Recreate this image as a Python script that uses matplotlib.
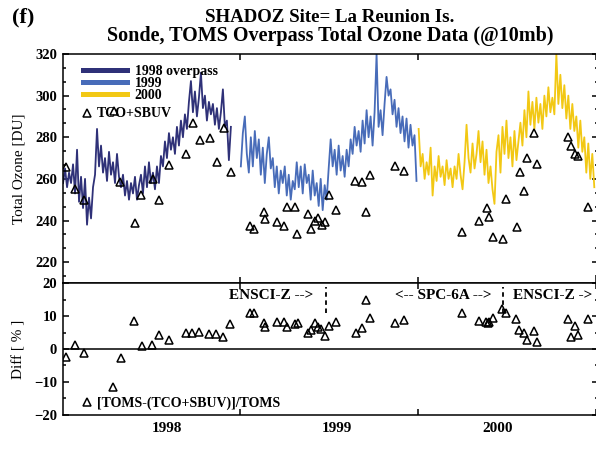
import numpy as np
import matplotlib
matplotlib.use("Agg")
import matplotlib.pyplot as plt
from matplotlib.lines import Line2D
from matplotlib.ticker import FixedLocator, MultipleLocator, AutoMinorLocator

plt.rcParams["font.family"] = ["Liberation Serif", "DejaVu Serif"]
plt.rcParams["font.weight"] = "bold"

# TOMS overpass total ozone [DU], daily record
toms_1998 = [258, 265, 256, 263, 258, 267, 253, 274, 249, 261, 246, 260, 238, 251, 241, 256,
             262, 284, 266, 276, 263, 270, 259, 273, 262, 268, 258, 272, 261, 256, 262, 252,
             259, 250, 258, 253, 261, 250, 257, 262, 253, 266, 256, 268, 258, 263, 255, 266,
             258, 271, 266, 278, 270, 282, 274, 280, 272, 285, 276, 288, 280, 291, 284, 297,
             307, 292, 302, 290, 299, 311, 294, 300, 288, 297, 291, 296, 286, 294, 284, 292,
             303, 285, 288, 269, 285]
toms_1999 = [266, 282, 290, 272, 263, 280, 266, 283, 270, 279, 262, 275, 258, 272, 280, 265,
             270, 256, 266, 253, 264, 258, 266, 252, 262, 250, 259, 255, 268, 256, 266, 253,
             267, 258, 262, 250, 264, 252, 258, 247, 260, 245, 257, 250, 265, 279, 266, 274,
             262, 276, 264, 271, 261, 274, 266, 279, 272, 285, 276, 283, 273, 288, 277, 293,
             280, 290, 276, 292, 320, 285, 293, 281, 296, 309, 300, 303, 291, 298, 285, 294,
             282, 290, 278, 289, 275, 286, 276, 281, 259]
toms_2000 = [284, 266, 272, 260, 268, 262, 275, 252, 266, 259, 271, 261, 266, 257, 269, 260,
             265, 256, 266, 260, 272, 262, 255, 268, 286, 270, 263, 277, 265, 272, 283, 268,
             278, 262, 274, 258, 266, 255, 248, 273, 281, 263, 285, 272, 288, 270, 280, 266,
             283, 269, 278, 287, 276, 293, 280, 302, 286, 297, 284, 299, 287, 296, 284, 300,
             290, 304, 292, 299, 291, 320, 296, 310, 294, 305, 289, 300, 284, 296, 283, 290,
             275, 288, 273, 280, 263, 277, 260, 272, 256]
# first and last day of each yearly record (decimal year)
span_1998 = (1998.002, 1998.946)
span_1999 = (1999.002, 1999.990)
span_2000 = (2000.002, 2000.990)
year_names = ["1998 overpass", "1999", "2000"]
year_colors = ["#2f3178", "#486cb9", "#f2c814"]

# sonde TCO + SBUV total ozone [DU]
tco_time = [1998.017, 1998.070, 1998.117, 1998.286, 1998.323, 1998.408, 1998.442, 1998.508,
            1998.539, 1998.596, 1998.694, 1998.733, 1998.771, 1998.827, 1998.868, 1998.906,
            1998.944,
            1999.052, 1999.075, 1999.133, 1999.137, 1999.206, 1999.245, 1999.264, 1999.305,
            1999.320, 1999.380, 1999.399, 1999.421, 1999.436, 1999.459, 1999.477, 1999.496,
            1999.535, 1999.646, 1999.685, 1999.708, 1999.726, 1999.867, 1999.919,
            2000.244, 2000.341, 2000.384, 2000.399, 2000.418, 2000.474, 2000.494, 2000.553,
            2000.571, 2000.594, 2000.612, 2000.650, 2000.665, 2000.841, 2000.860, 2000.880,
            2000.897, 2000.955]
tco_ozone = [265.6, 255.0, 250.0, 292.6, 258.7, 239.0, 252.3, 260.0, 250.0, 266.7, 272.0,
             287.0, 278.7, 279.8, 268.0, 284.3, 263.4,
             237.2, 236.0, 243.9, 240.9, 239.3, 237.2, 246.5, 246.5, 233.7, 243.1, 236.0,
             240.0, 241.2, 237.7, 239.1, 252.4, 244.9, 259.2, 258.4, 244.1, 262.0, 266.4,
             263.6,
             234.3, 239.9, 245.8, 241.5, 231.9, 231.3, 250.3, 236.7, 263.1, 254.0, 270.0,
             282.0, 267.1, 279.9, 275.9, 272.0, 271.1, 246.5]

# [TOMS-(TCO+SBUV)]/TOMS in percent
diff_time = [1998.019, 1998.069, 1998.120, 1998.284, 1998.326, 1998.402, 1998.444, 1998.503,
             1998.541, 1998.597, 1998.691, 1998.730, 1998.768, 1998.824, 1998.865, 1998.902,
             1998.940,
             1999.053, 1999.075, 1999.131, 1999.137, 1999.206, 1999.243, 1999.262, 1999.305,
             1999.324, 1999.380, 1999.399, 1999.417, 1999.436, 1999.455, 1999.474, 1999.496,
             1999.535, 1999.648, 1999.685, 1999.708, 1999.726, 1999.867, 1999.919,
             2000.245, 2000.341, 2000.382, 2000.391, 2000.400, 2000.419, 2000.472, 2000.494,
             2000.551, 2000.569, 2000.593, 2000.610, 2000.650, 2000.666, 2000.840, 2000.861,
             2000.884, 2000.897, 2000.957]
diff_pct = [-2.5, 1.2, -1.3, -11.7, -2.6, 8.6, 0.9, 1.2, 4.2, 2.7, 4.8, 4.8, 5.2, 4.6, 4.5,
            3.8, 7.5,
            10.9, 11.1, 7.8, 6.8, 8.1, 8.3, 6.6, 7.6, 8.0, 4.8, 5.8, 7.8, 6.6, 6.0, 4.0, 7.0,
            8.1, 4.8, 6.3, 14.9, 9.3, 8.0, 8.8,
            10.9, 8.5, 8.1, 7.8, 8.3, 9.3, 12.2, 11.1, 9.1, 5.8, 4.8, 2.7, 5.5, 2.2, 9.0,
            3.8, 7.1, 4.2, 9.0]

# sonde type changes
switch_time = [1999.479, 2000.479]
sonde_text = ["ENSCI-Z -->", "<-- SPC-6A -->", "ENSCI-Z ->"]
sonde_pos = [1998.934, 2000.143, 2000.530]
sonde_align = ["left", "center", "left"]

year_ticks = [1999, 2000, 2001]
year_label_pos = [1998.586, 1999.544, 2000.446]
year_labels = ["1998", "1999", "2000"]

fig = plt.figure(figsize=(5.96, 4.54), dpi=100)
ax1 = fig.add_axes([0.1052, 0.3767, 0.8985, 0.5044])
ax2 = fig.add_axes([0.1052, 0.0859, 0.8985, 0.2907])

tri = dict(ls="none", marker="^", ms=6, mfc="none", mec="black", mew=1.1)

for span, vals, c in zip([span_1998, span_1999, span_2000],
                         [toms_1998, toms_1999, toms_2000], year_colors):
    ax1.plot(np.linspace(span[0], span[1], len(vals)), vals, color=c, lw=1.3)
ax1.plot(tco_time, tco_ozone, zorder=6, **tri)

ax2.plot(diff_time, diff_pct, **tri)
ax2.axhline(0, color="black", lw=1.1)
ax2.vlines(switch_time, 11, 18.8, colors="black", linestyles=(0, (2.5, 2)), lw=1.3)
for s, xp, ha in zip(sonde_text, sonde_pos, sonde_align):
    ax2.text(xp, 16.3, s, ha=ha, va="center", fontsize=11)

for ax in (ax1, ax2):
    ax.set_xlim(1998.0, 2001.012)
    ax.xaxis.set_major_locator(FixedLocator(year_ticks))
    ax.tick_params(which="both", direction="in", top=True, right=True, width=1.1,
                   labelsize=10.5, pad=4)
    ax.tick_params(which="major", length=4)
    ax.tick_params(which="minor", length=2.3)
    ax.tick_params(axis="x", which="major", labelbottom=False)
    for sp in ax.spines.values():
        sp.set_linewidth(1.1)

ax1.set_ylim(210, 320)
ax1.yaxis.set_major_locator(MultipleLocator(20))
ax1.yaxis.set_minor_locator(AutoMinorLocator(3))
ax1.set_ylabel("Total Ozone [DU]", fontsize=11)
ax1.yaxis.set_label_coords(-0.07, 0.5)

ax2.set_ylim(-20.1, 20.1)
ax2.yaxis.set_major_locator(MultipleLocator(10))
ax2.yaxis.set_minor_locator(AutoMinorLocator(2))
ax2.set_xticks(year_label_pos, labels=year_labels, minor=True)
ax2.tick_params(axis="x", which="minor", length=0, labelsize=11, pad=5)
ax2.set_ylabel("Diff [ % ]", fontsize=11)
ax2.yaxis.set_label_coords(-0.07, 0.5)

# legends
h_years = [Line2D([], [], color=c, lw=3.6) for c in year_colors]
leg1 = ax1.legend(h_years, year_names, loc="upper left", bbox_to_anchor=(0.037, 0.952),
                  frameon=False, fontsize=10, handlelength=3.2, handletextpad=0.55,
                  labelspacing=-0.08, borderpad=0, borderaxespad=0)
ax1.add_artist(leg1)
h_tri = Line2D([], [], **tri)
ax1.legend([h_tri], ["TCO+SBUV"], loc="center left", bbox_to_anchor=(0.032, 0.738),
           frameon=False, fontsize=10, handlelength=1.0, handletextpad=0.2,
           borderpad=0, borderaxespad=0)
ax2.legend([h_tri], ["[TOMS-(TCO+SBUV)]/TOMS"], loc="center left",
           bbox_to_anchor=(0.032, 0.091), frameon=False, fontsize=10, handlelength=1.0,
           handletextpad=0.2, borderpad=0, borderaxespad=0)

fig.text(0.02, 1 - 17 / 454, "(f)", ha="left", va="center", fontsize=16)
fig.text(0.5537, 1 - 17.5 / 454, "SHADOZ Site= La Reunion Is.", ha="center", va="center",
         fontsize=13.6)
fig.text(0.5537, 1 - 36.5 / 454, "Sonde, TOMS Overpass Total Ozone Data (@10mb)",
         ha="center", va="center", fontsize=14.5)

plt.savefig("out.png", dpi=100)
